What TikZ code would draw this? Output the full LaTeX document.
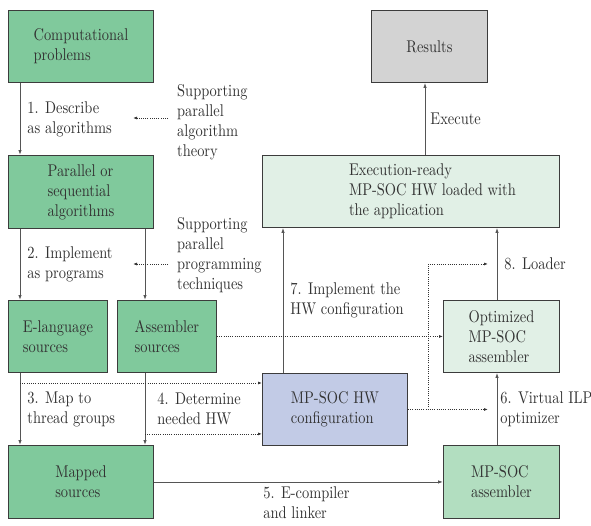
\documentclass[tikz,border=0pt]{standalone}
\usepackage{fontspec}
\newfontfamily\diagfont{lmroman10-regular.otf}[FakeStretch=0.85]
\usetikzlibrary{arrows.meta,positioning,calc}

\definecolor{stepgreen}{RGB}{128,201,156}
\definecolor{asmgreen}{RGB}{178,222,192}
\definecolor{readygreen}{RGB}{225,240,230}
\definecolor{hwblue}{RGB}{194,203,230}
\definecolor{resgray}{RGB}{211,211,211}
\definecolor{edge}{RGB}{60,60,60}
\definecolor{wire}{RGB}{85,85,85}

\tikzset{
  txt/.style={font=\diagfont\fontsize{17}{20}\selectfont, text=black!80},
  box/.style={txt, draw=edge, line width=0.9pt, anchor=north west, align=left, inner sep=0pt},
  flow/.style={draw=wire, line width=0.9pt, -{Latex[length=5pt,width=3.5pt]}},
  hint/.style={draw=black!80, line width=0.8pt, dash pattern=on 0.8pt off 1.4pt, -{Latex[length=4pt,width=3pt]}},
  lbl/.style={txt, align=left, inner sep=0pt},
}

\begin{document}
\begin{tikzpicture}[x=1pt, y=-1pt]
   \useasboundingbox (0,0) rectangle (591,525);

   % left column
   \node[box, fill=stepgreen, minimum width=145pt, minimum height=72pt] (comp) at (8,10) {Computational\\problems};
   \node[box, fill=stepgreen, minimum width=145pt, minimum height=73pt] (par) at (8,155) {Parallel or\\sequential\\algorithms};
   \node[box, fill=stepgreen, minimum width=99pt, minimum height=72pt] (elang) at (8,300) {E-language\\sources};
   \node[box, fill=stepgreen, minimum width=99pt, minimum height=72pt] (asm) at (117,300) {Assembler\\sources};
   \node[box, fill=stepgreen, minimum width=145pt, minimum height=73pt] (mapped) at (8,445) {Mapped\\sources};

   % right column
   \node[box, fill=resgray, minimum width=116pt, minimum height=72pt] (res) at (371,10) {Results};
   \node[box, fill=readygreen, minimum width=297pt, minimum height=72pt] (exec) at (262,155)
      {\hspace*{43pt}\begin{tabular}{@{}l@{}}Execution-ready\\MP-SOC HW loaded with\\the application\end{tabular}};
   \node[box, fill=readygreen, minimum width=116pt, minimum height=72pt] (opt) at (443,300) {Optimized\\MP-SOC\\assembler};
   \node[box, fill=hwblue, minimum width=145pt, minimum height=72pt] (hw) at (262,373) {MP-SOC HW\\configuration};
   \node[box, fill=asmgreen, minimum width=116pt, minimum height=73pt] (mpasm) at (443,445) {MP-SOC\\assembler};

   \coordinate (lx) at (20,0);
   \coordinate (rx) at (145,0);
   \coordinate (hx) at (283,0);
   \coordinate (ex) at (425,0);
   \coordinate (dx) at (428,0);
   \coordinate (ox) at (497,0);

   % main flow
   \draw[flow] (comp.south -| lx) -- (par.north -| lx) node[lbl, midway, right=7pt] (d1) {1. Describe\\as algorithms};
   \draw[flow] (par.south -| lx) -- (elang.north -| lx) node[lbl, midway, right=7pt] (d2) {2. Implement\\as programs};
   \draw[flow] (par.south -| rx) -- (asm.north -| rx);
   \draw[flow] (elang.south -| lx) -- (mapped.north -| lx) node[lbl, midway, right=7pt] (d3) {3. Map to\\thread groups};
   \draw[flow] (asm.south -| rx) -- (mapped.north -| rx) node[lbl, midway, right=12pt] (d4) {4. Determine\\needed HW};
   \draw[flow] (mapped.east) -- (mpasm.west) node[lbl, midway, below=4pt, xshift=8pt] (d5) {5. E-compiler\\and linker};
   \draw[flow] (mpasm.north -| ox) -- (opt.south -| ox) node[lbl, midway, right=3pt] (d6) {6. Virtual ILP\\optimizer};
   \draw[flow] (hw.north -| hx) -- (exec.south -| hx) node[lbl, midway, right=7pt] (d7) {7. Implement the\\HW configuration};
   \draw[flow] (opt.north -| ox) -- (exec.south -| ox) node[lbl, midway, right=7pt] (d8) {8. Loader};
   \draw[flow] (exec.north -| ex) -- (res.south -| ex) node[lbl, midway, right=5pt] (dx1) {Execute};

   % supporting know-how
   \node[lbl, anchor=west] (sup1) at (177,122) {Supporting\\parallel\\algorithm\\theory};
   \node[lbl, anchor=west] (sup2) at (177,255) {Supporting\\parallel\\programming\\techniques};
   \coordinate (t1) at (133,118);
   \coordinate (t2) at (133,264);
   \draw[hint, shorten <=9pt] (sup1.west |- t1) -- (t1);
   \draw[hint, shorten <=9pt] (sup2.west |- t2) -- (t2);

   % dotted side paths
   \coordinate (hin1) at ([yshift=-10pt]hw.north west);
   \coordinate (hin2) at ([yshift=12pt]hw.south west);
   \draw[hint] (lx |- hin1) -- (hin1);
   \draw[hint] (rx |- hin2) -- (hin2);
   \draw[hint] (asm.east) -- (opt.west);
   \draw[hint, shorten >=9pt] (hw.east) -- (ox |- hw.east);
   \draw[hint, shorten >=9pt] (dx |- hw.east) -- (dx |- d8) -- (ox |- d8);
\end{tikzpicture}
\end{document}
